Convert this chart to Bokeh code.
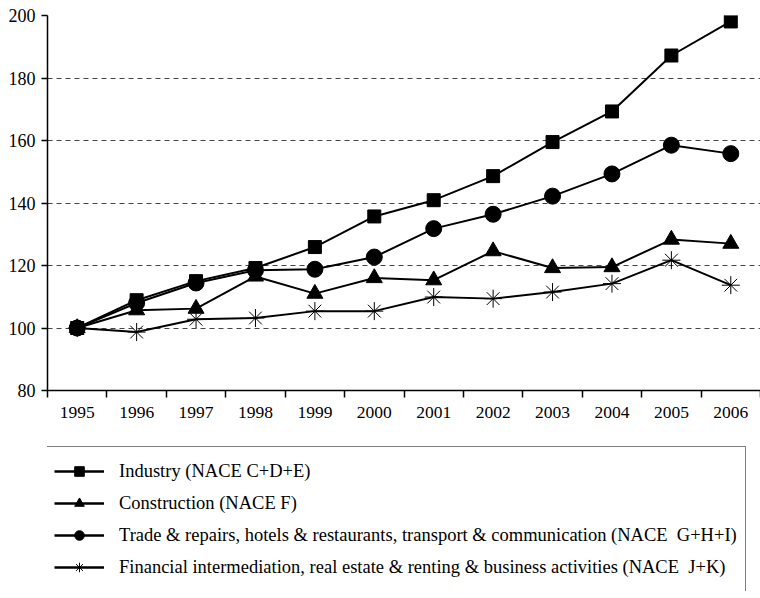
from bokeh.plotting import figure
from bokeh.layouts import column
from bokeh.models import FixedTicker, Legend, LegendItem, Range1d
from bokeh.embed import file_html
from bokeh.resources import INLINE

years = [1995, 1996, 1997, 1998, 1999, 2000, 2001, 2002, 2003, 2004, 2005, 2006]
industry = [100, 108.9, 115.0, 119.2, 125.9, 135.7, 140.9, 148.6, 159.5, 169.3, 187.2, 198.1]
construction = [100, 105.7, 106.2, 116.5, 111.0, 116.0, 115.3, 124.6, 119.2, 119.5, 128.3, 127.0]
trade = [100, 108.0, 114.4, 118.5, 118.8, 122.7, 131.8, 136.4, 142.2, 149.3, 158.5, 155.8]
financial = [100, 98.7, 102.8, 103.2, 105.4, 105.4, 109.9, 109.4, 111.5, 114.2, 121.7, 113.7]
y_ticks = [80, 100, 120, 140, 160, 180, 200]

labels = [
    "Industry (NACE C+D+E)",
    "Construction (NACE F)",
    "Trade & repairs, hotels & restaurants, transport & communication (NACE  G+H+I)",
    "Financial intermediation, real estate & renting & business activities (NACE  J+K)",
]

FONT = "Liberation Serif"

p = figure(width=760, height=430, output_backend="svg", toolbar_location=None,
           x_range=Range1d(years[0] - 0.5, years[-1] + 0.5),
           y_range=Range1d(y_ticks[0], y_ticks[-1]),
           min_border_left=47, min_border_right=0, min_border_top=15,
           min_border_bottom=40)
p.outline_line_color = None
p.background_fill_color = "white"
p.border_fill_color = "white"

# x axis: labels at category centres, tick marks at category boundaries
p.xaxis.ticker = FixedTicker(ticks=years,
                             minor_ticks=[y - 0.5 for y in years] + [years[-1] + 0.5])
p.xaxis.major_tick_out = 0
p.xaxis.major_tick_in = 0
p.xaxis.minor_tick_out = 7
p.xaxis.minor_tick_in = 0
p.xaxis.minor_tick_line_color = "black"
p.xaxis.minor_tick_line_width = 1.5
p.xaxis.axis_line_color = "black"
p.xaxis.axis_line_width = 1.5
p.xaxis.major_label_standoff = 9
p.xaxis.major_label_text_font = FONT
p.xaxis.major_label_text_font_size = "17.5px"
p.xaxis.major_label_text_color = "black"

p.yaxis.ticker = FixedTicker(ticks=y_ticks, minor_ticks=[])
p.yaxis.major_tick_out = 6
p.yaxis.major_tick_in = 0
p.yaxis.major_tick_line_color = "black"
p.yaxis.major_tick_line_width = 1.5
p.yaxis.axis_line_color = "black"
p.yaxis.axis_line_width = 1.5
p.yaxis.major_label_standoff = 6
p.yaxis.major_label_text_font = FONT
p.yaxis.major_label_text_font_size = "18px"
p.yaxis.major_label_text_color = "black"

p.xgrid.grid_line_color = None
p.ygrid.ticker = FixedTicker(ticks=y_ticks[1:])
p.ygrid.grid_line_color = "#444444"
p.ygrid.grid_line_width = 1
p.ygrid.grid_line_dash = "5 4"

series = [
    (industry, "square", 13),
    (construction, "triangle", 16),
    (trade, "circle", 16),
    (financial, "asterisk", 18),
]

# legend lives in its own strip below the chart
lg = figure(width=760, height=161, output_backend="svg", toolbar_location=None,
            x_range=Range1d(years[0] - 0.5, years[-1] + 0.5),
            y_range=Range1d(y_ticks[0], y_ticks[-1]),
            min_border=0, x_axis_location=None, y_axis_location=None)
lg.outline_line_color = None
lg.grid.visible = False
lg.background_fill_color = "white"
lg.border_fill_color = "white"

items = []
for (vals, marker, size), lab in zip(series, labels):
    p.line(years, vals, line_color="black", line_width=2)
    p.scatter(years, vals, marker=marker, size=size, fill_color="black",
              line_color="black", line_width=1)
    ln = lg.line(years, vals, line_color="black", line_width=2.5, visible=False)
    sc = lg.scatter(years, vals, marker=marker, size=size, fill_color="black",
                    line_color="black", line_width=1, visible=False)
    items.append(LegendItem(label=lab, renderers=[ln, sc]))

legend = Legend(items=items, location=(-2, -1))
legend.label_text_font = FONT
legend.label_text_font_size = "18.5px"
legend.label_text_color = "black"
legend.label_height = 32
legend.glyph_height = 24
legend.glyph_width = 50
legend.label_standoff = 15
legend.spacing = 0
legend.padding = 8
legend.margin = 0
legend.border_line_color = "black"
legend.border_line_width = 1
legend.background_fill_alpha = 1
lg.add_layout(legend, "center")

layout = column(p, lg, spacing=0)
open("out.html", "w").write(file_html(layout, INLINE))
